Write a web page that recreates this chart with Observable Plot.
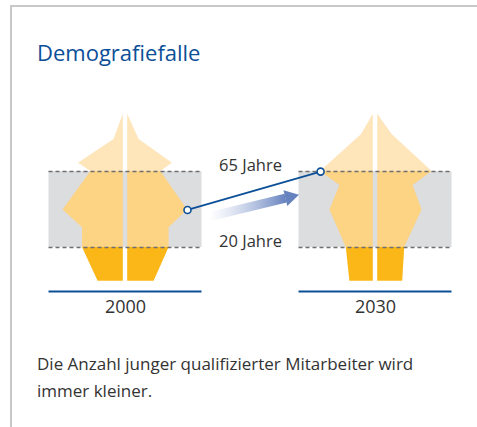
<!DOCTYPE html>
<html><head><meta charset="utf-8">
<script src="https://cdn.jsdelivr.net/npm/d3@7"></script>
<script src="https://cdn.jsdelivr.net/npm/@observablehq/plot@0.6"></script>
<style>
html,body{overflow:hidden;scrollbar-width:none}
::-webkit-scrollbar{display:none;width:0;height:0}
body{margin:0;width:477px;height:427px;background:#fff;font-family:"Open Sans",sans-serif;position:relative}
#frame{position:absolute;left:10px;top:5px;width:467px;height:422px;border-left:2px solid #c8c8c8;border-top:2px solid #c8c8c8;box-sizing:border-box}
#title{position:absolute;left:37px;top:41px;font-size:22px;line-height:22px;color:#0b4f97;margin:0;font-weight:400;white-space:nowrap}
#chart{position:absolute;left:0;top:90px;width:477px;height:240px}
#caption{position:absolute;left:37px;top:350px;font-size:17px;line-height:27px;color:#333;margin:0;white-space:nowrap}
</style></head><body>
<div id="frame"></div>
<h1 id="title">Demografiefalle</h1>
<div id="chart"></div>
<p id="caption">Die Anzahl junger qualifizierter Mitarbeiter wird<br>immer kleiner.</p>
<script>
// ---- data ----
const years = ["2000", "2030"];
const ages2000  = [0, 20, 31.7, 42.3, 65, 70, 84, 99];
const men2000   = [25.2, 40.8, 40.8, 60.2, 32.5, 44.8, 9.2, 0];
const women2000 = [26.4, 41.4, 41.4, 59.8, 33.1, 44.8, 11.4, 0];
const ages2030  = [0, 20, 42.3, 56.7, 65, 86.9, 99];
const men2030   = [23.4, 27, 43.4, 33.4, 52.7, 11.7, 0];
const women2030 = [25, 27, 44.4, 35.4, 54.4, 14.4, 0];
const workingAge = [20, 65];
const ageLabels = ["20 Jahre", "65 Jahre"];
const bandNames = ["young", "mid", "old"];

// ---- layout constants ----
const center = {"2000": 0, "2030": 250};
const mid = 125;
const gap = 2.2;
const bandHalf = 76.5;
const yDomain = [-6, 100];
const blue = "#0b4f97";

const bands = [
  {name: "young", lo: 0, hi: workingAge[0]},
  {name: "mid", lo: workingAge[0], hi: workingAge[1]},
  {name: "old", lo: workingAge[1], hi: Infinity}
];
function rows(year, ages, men, women) {
  const out = [];
  for (const b of bands)
    ages.forEach((a, i) => { if (a >= b.lo && a <= b.hi) out.push({year, band: b.name, age: a, men: men[i], women: women[i]}); });
  return out;
}
const pyr = [...rows("2000", ages2000, men2000, women2000), ...rows("2030", ages2030, men2030, women2030)];

const iMax = d3.maxIndex(women2000);
const j65 = ages2030.indexOf(workingAge[1]);
const conn = [{x1: center["2000"] + gap + women2000[iMax], y1: ages2000[iMax],
               x2: center["2030"] - gap - men2030[j65], y2: ages2030[j65]}];
const connPts = [{x: conn[0].x1, y: conn[0].y1}, {x: conn[0].x2, y: conn[0].y2}];

const arrowShaft = [{x: mid - 41, y: 38.4}, {x: mid + 35, y: 49.3}];
const arrowHead = [{x: mid + 39.4, y: 50}];

const dashRows = years.flatMap(y => workingAge.map(a => ({year: y, age: a})));

const svg = Plot.plot({
  width: 477, height: 240,
  marginLeft: 0, marginRight: 0, marginTop: 22, marginBottom: 39,
  x: {domain: [-125, 352], axis: null},
  y: {domain: yDomain, axis: null},
  color: {type: "ordinal", domain: bandNames, range: ["#fbb717", "#fdd384", "#fee5ba"]},
  style: {fontFamily: "Open Sans", background: "transparent", color: "#333"},
  marks: [
    Plot.rect(years, {x1: d => center[d] - bandHalf, x2: d => center[d] + bandHalf, y1: workingAge[0], y2: workingAge[1], fill: "#dcdddf"}),
    Plot.areaX(pyr, {y: "age", x1: d => center[d.year] - gap, x2: d => center[d.year] - gap - d.men, z: d => d.year + d.band, fill: "band"}),
    Plot.areaX(pyr, {y: "age", x1: d => center[d.year] + gap, x2: d => center[d.year] + gap + d.women, z: d => d.year + d.band, fill: "band"}),
    Plot.ruleY(dashRows, {y: "age", x1: d => center[d.year] - bandHalf, x2: d => center[d.year] + bandHalf, stroke: "#6f6f6f", strokeWidth: 1.5, strokeDasharray: "4,3"}),
    Plot.ruleY(years, {y: yDomain[0], x1: d => center[d] - bandHalf, x2: d => center[d] + bandHalf, stroke: blue, strokeWidth: 2}),
    Plot.text(years, {x: d => center[d], frameAnchor: "bottom", lineAnchor: "top", dy: 9, fontSize: 18, fill: "#333"}),
    Plot.line(arrowShaft, {x: "x", y: "y", stroke: "url(#arrowGrad)", strokeWidth: 9, strokeLinecap: "butt"}),
    Plot.dot(arrowHead, {x: "x", y: "y", symbol: "triangle", r: 6, fill: "#6783bf", rotate: 76.3}),
    Plot.link(conn, {x1: "x1", y1: "y1", x2: "x2", y2: "y2", stroke: blue, strokeWidth: 1.8}),
    Plot.dot(connPts, {x: "x", y: "y", r: 3.5, fill: "white", stroke: blue, strokeWidth: 1.6}),
    Plot.text(workingAge, {x: () => mid, y: d => d, text: (d, i) => ageLabels[i], lineAnchor: "bottom", dy: -1, fontSize: 16.5, fill: "#333"})
  ]
});
const defs = document.createElementNS("http://www.w3.org/2000/svg", "defs");
defs.innerHTML = '<linearGradient id="arrowGrad" x1="0" x2="1" y1="0" y2="0"><stop offset="0" stop-color="#a9b9de" stop-opacity="0"/><stop offset="1" stop-color="#6783bf" stop-opacity="1"/></linearGradient>';
svg.prepend(defs);
document.getElementById("chart").appendChild(svg);
</script>
</body></html>
